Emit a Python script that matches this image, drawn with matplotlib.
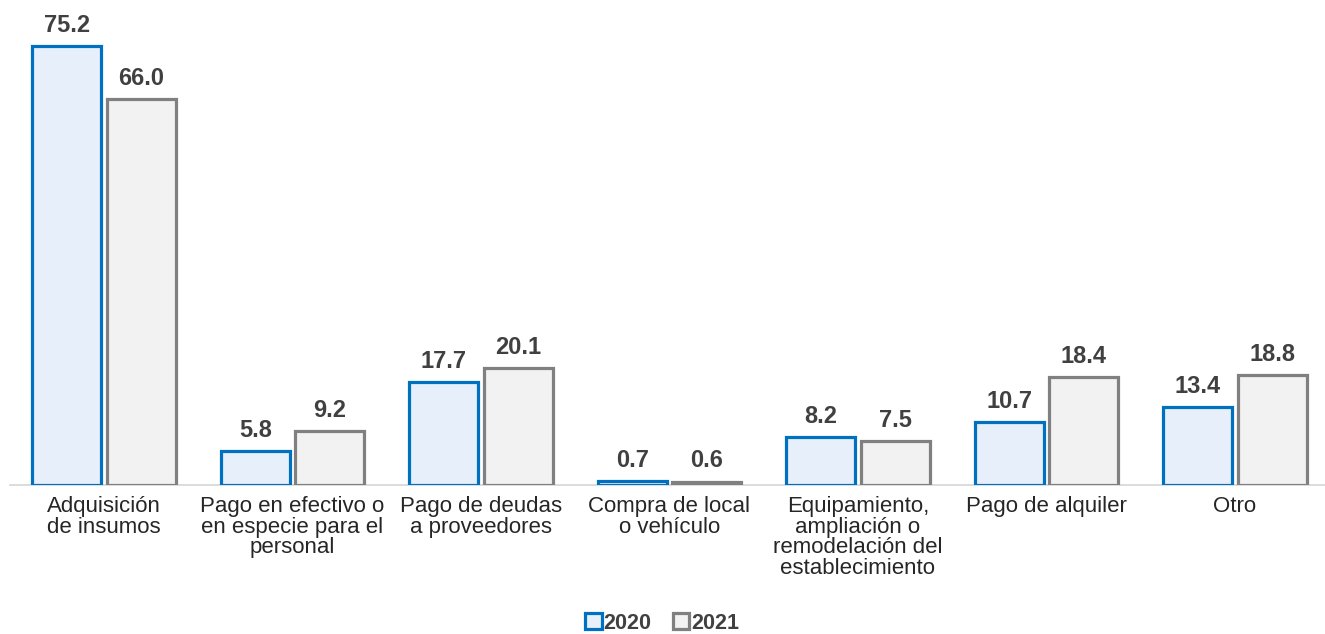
import numpy as np
import matplotlib.pyplot as plt

plt.rcParams['font.family'] = ['Liberation Sans', 'DejaVu Sans']

categories = ["Adquisición\nde insumos",
              "Pago en efectivo o\nen especie para el\npersonal",
              "Pago de deudas\na proveedores",
              "Compra de local\no vehículo",
              "Equipamiento,\nampliación o\nremodelación del\nestablecimiento",
              "Pago de alquiler",
              "Otro"]
values_2020 = [75.2, 5.8, 17.7, 0.7, 8.2, 10.7, 13.4]
values_2021 = [66.0, 9.2, 20.1, 0.6, 7.5, 18.4, 18.8]
series_names = ["2020", "2021"]

text_color = "#404040"
edge_colors = ["#0070C0", "#808080"]
fill_colors = ["#E7F0FA", "#F2F2F2"]

fig = plt.figure(figsize=(13.25, 6.34), dpi=100)
ax = fig.add_axes([9.75 / 1325, 0.235, 1319.5 / 1325, 0.765])

x = np.arange(len(categories))
w = 0.365
off = 0.197
for i, vals in enumerate([values_2020, values_2021]):
    pos = x + (-off if i == 0 else off)
    bars = ax.bar(pos, vals, width=w, color=fill_colors[i], edgecolor=edge_colors[i],
                  linewidth=2.3, label=series_names[i], zorder=3)
    for b, v in zip(bars, vals):
        ax.text(b.get_x() + b.get_width() / 2, v + 2.4, f"{v:.1f}", ha="center", va="baseline",
                fontsize=17, fontweight="bold", color=text_color)

ax.set_xlim(-0.5, len(categories) - 0.5)
ax.set_ylim(0, 83)
ax.set_xticks(x)
ax.set_xticklabels(categories, fontsize=16, color="#262626", linespacing=0.97)
ax.tick_params(axis="x", length=0, pad=8)
ax.set_yticks([])
for s in ["top", "right", "left"]:
    ax.spines[s].set_visible(False)
ax.spines["bottom"].set_color("#D9D9D9")
ax.spines["bottom"].set_linewidth(1.3)

leg = fig.legend(loc="center", bbox_to_anchor=(0.5, 0.017), ncol=2, frameon=False,
                 handlelength=0.75, handleheight=0.75, handletextpad=0.1, columnspacing=1.0,
                 prop={"size": 15.5, "weight": "bold"})
for t in leg.get_texts():
    t.set_color(text_color)

fig.savefig("out.png", dpi=100)
